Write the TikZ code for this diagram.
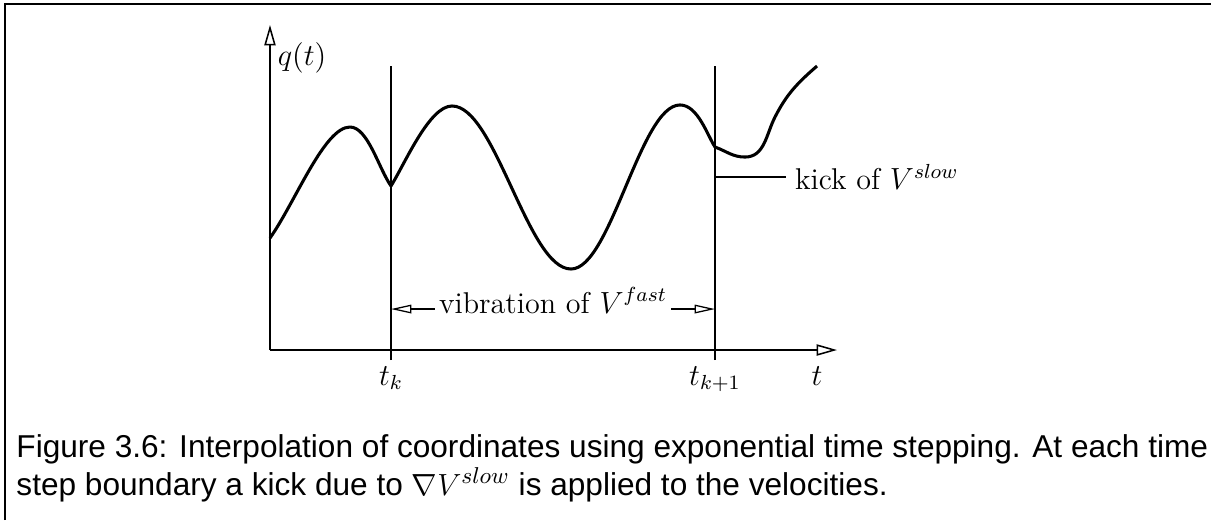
\documentclass[tikz,border=0pt]{standalone}
\usepackage{amsmath, amssymb}
\usepackage{fontspec}
\newfontfamily\capfont{Liberation Sans}
\usepackage{tikz}
\usetikzlibrary{arrows.meta, positioning, calc}

\begin{document}
\begin{tikzpicture}[
    font=\fontsize{11.8}{14.2}\selectfont,
    frame_line/.style={line width=0.7pt},
    axis/.style={line width=0.6pt, -{Triangle[open, length=8pt, width=4.4pt]}},
    step_line/.style={line width=0.5pt},
    span_arrow/.style={line width=0.5pt,
        {Triangle[open, length=8pt, width=3.4pt]}-{Triangle[open, length=8pt, width=3.4pt]}},
    signal/.style={line width=1.2pt, line join=round},
    axis_label/.style={anchor=base, inner sep=0pt},
    gap_label/.style={fill=white, inner sep=1.5pt, anchor=base},
    caption_line/.style={anchor=base west, inner sep=0pt, font=\capfont\fontsize{12.4}{14.9}\selectfont}
]

    % Page size and frame (left and top edge only)
    \useasboundingbox (-3.723,-2.344) rectangle (12.976,4.8265);
    \draw[frame_line] (-3.654,-2.344) -- (-3.654,4.767) -- (12.976,4.767);

    % --- Axes ---
    \coordinate (origin) at (0,0);
    \coordinate (y_end) at (0,4.482);
    \coordinate (x_end) at (7.819,0);
    \draw[axis] (origin) -- (y_end);
    \draw[axis] (origin) -- (x_end);

    \node[axis_label, anchor=base west] (q_lbl) at (0.10,3.93) {$q(t)$};

    % --- Time step boundaries t_k and t_{k+1} ---
    \coordinate (tk_top) at (1.669,3.916);
    \coordinate (tk_bot) at (1.669,-0.138);
    \coordinate (tk1_top) at (6.137,3.916);
    \coordinate (tk1_bot) at (6.137,-0.138);
    \draw[step_line] (tk_bot) -- (tk_top);
    \draw[step_line] (tk1_bot) -- (tk1_top);

    \node[axis_label] (tk_lbl) at (1.669,-0.483) {$t_k$};
    \node[axis_label] (tk1_lbl) at (6.137,-0.483) {$t_{k+1}$};
    \node[axis_label] (t_lbl) at (7.543,-0.483) {$t$};

    % --- Coordinate q(t): fast vibration with kinks at the boundaries ---
    \draw[signal] (0,1.544) .. controls (0.35,2.04) and (0.75,3.075) .. (1.103,3.075)
        .. controls (1.35,3.075) and (1.50,2.50) .. (1.669,2.262)
        .. controls (1.87,2.59) and (2.20,3.365) .. (2.510,3.365)
        cos (3.331,2.241) sin (4.151,1.117)
        cos (4.903,2.248) sin (5.654,3.379)
        .. controls (5.90,3.379) and (6.03,2.96) .. (6.137,2.799)
        to[out=-20,in=180] (6.550,2.661)
        to[out=0,in=243] (6.964,3.213)
        to[out=63,in=221] (7.543,3.916);

    % --- Span of one time step ---
    \coordinate (vib_l) at (1.669,0.565);
    \coordinate (vib_r) at (6.137,0.565);
    \draw[span_arrow] (vib_l) -- (vib_r);
    \node[gap_label] (vib_lbl) at (3.903,0.51) {vibration of $V^{fast}$};

    % --- Kick at t_{k+1} ---
    \coordinate (kick_start) at (6.137,2.386);
    \node[anchor=west] (kick_lbl) at (7.116,2.386) {kick of $V^{slow}$};
    \draw[step_line] (kick_start) -- (kick_start -| kick_lbl.west);

    % --- Caption ---
    \node[caption_line] (cap_a) at (-3.503,-1.476)
        {Figure 3.6: Interpolation of coordinates using exponential time stepping. At each time};
    \node[caption_line] (cap_b) at (-3.503,-2.000)
        {step boundary a kick due to $\nabla V^{slow}$ is applied to the velocities.};

\end{tikzpicture}
\end{document}
